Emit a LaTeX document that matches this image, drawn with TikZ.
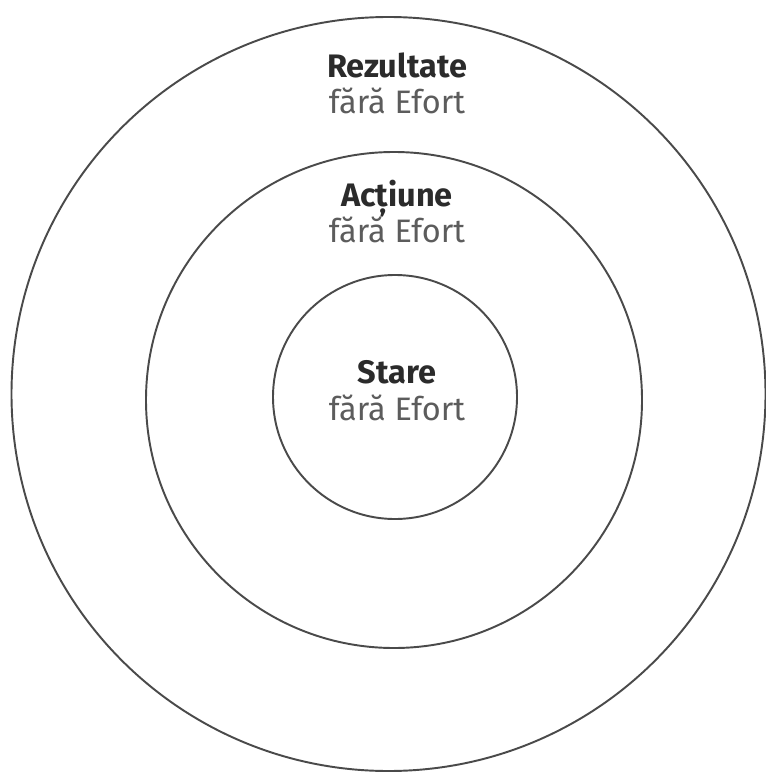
\documentclass[tikz,border=0pt]{standalone}
\usepackage{fontspec}
\setmainfont{Fira Sans}
\usepackage{tikz}

\definecolor{ringgray}{HTML}{4A4A4A}
\definecolor{headgray}{HTML}{2B2B2B}
\definecolor{subgray}{HTML}{5C5C5C}

\begin{document}
\begin{tikzpicture}[x=0.02cm,y=-0.02cm,
  ring/.style={draw=ringgray,line width=1.1pt},
  head/.style={anchor=base,inner sep=0pt,text=headgray,
               font=\fontsize{18.5}{20}\selectfont\bfseries},
  sub/.style={anchor=base,inner sep=0pt,text=subgray,
              font=\fontsize{18.5}{20}\selectfont}]
  \useasboundingbox (0,0) rectangle (765,773);
  % the three rings, outside in
  \draw[ring] (388.5,394) circle (377);
  \draw[ring] (394,400) circle (248);
  \draw[ring] (395,397) circle (122);
  % labels
  \node[head] (rez)  at (397,78)  {Rezultate};
  \node[sub]  (rezs) at (397,114) {fără Efort};
  \node[head] (act)  at (397,207) {Acțiune};
  \node[sub]  (acts) at (397,243) {fără Efort};
  \node[head] (sta)  at (397,383) {Stare};
  \node[sub]  (stas) at (397,420) {fără Efort};
\end{tikzpicture}
\end{document}
